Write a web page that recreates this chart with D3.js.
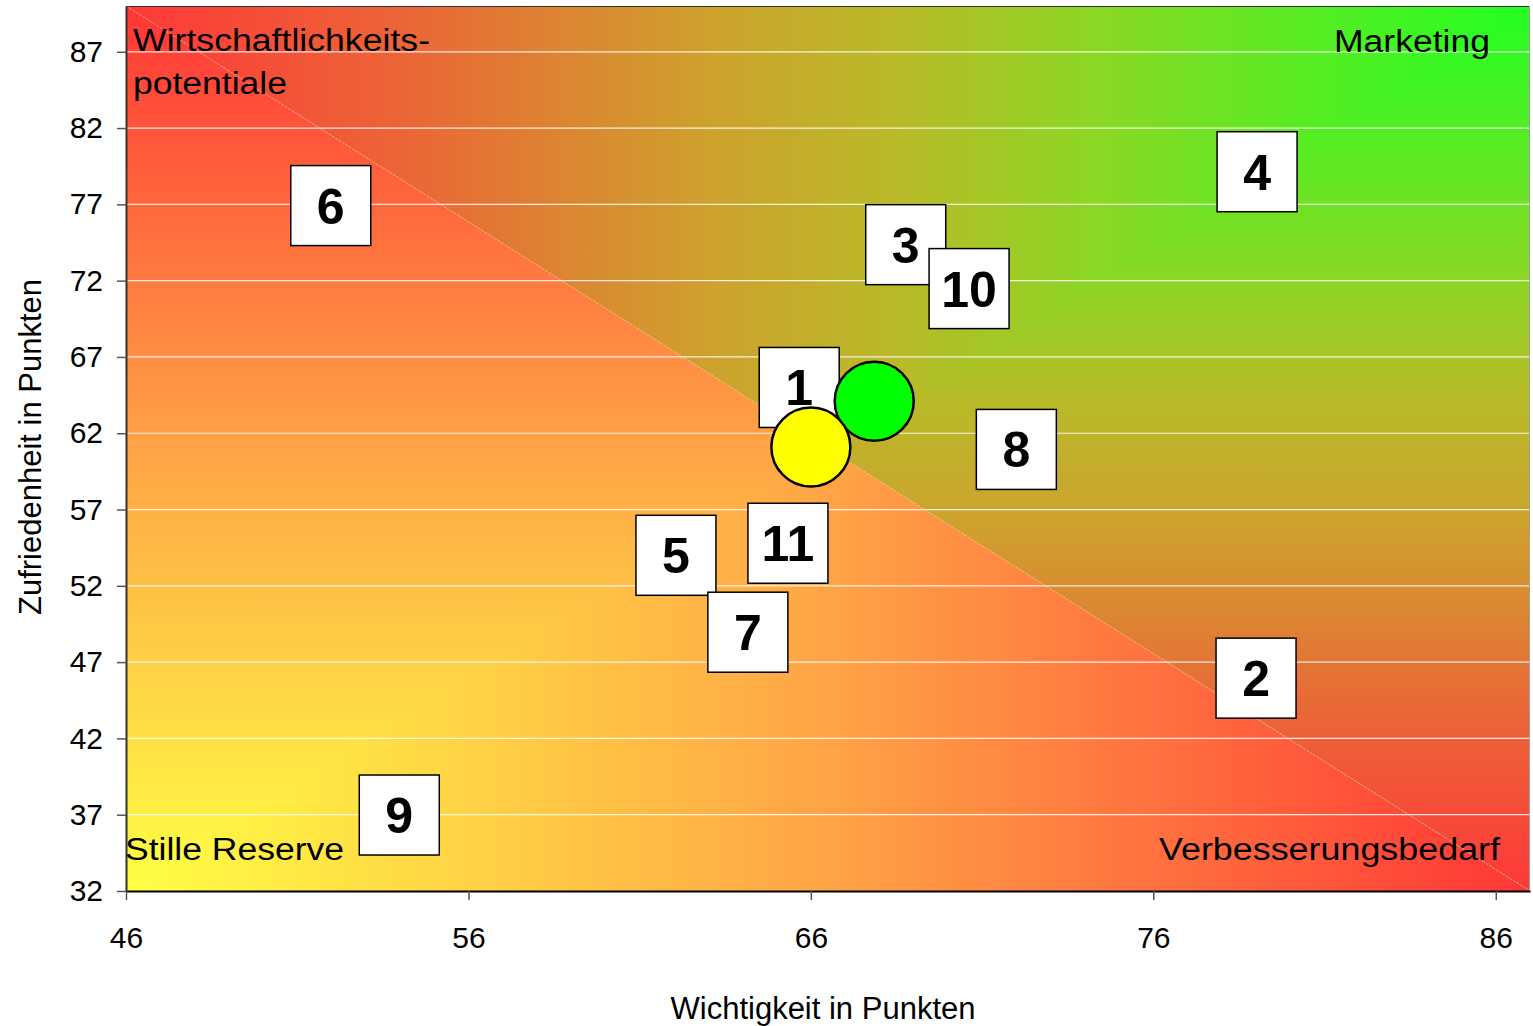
<!DOCTYPE html>
<html>
<head>
<meta charset="utf-8">
<script src="https://cdn.jsdelivr.net/npm/d3@7"></script>
<style>
  body { margin: 0; background: #ffffff; }
  svg text { font-family: Arial, "Liberation Sans", sans-serif; }
</style>
</head>
<body>
<svg id="chart" width="1533" height="1026"></svg>
<script>
// ---------- data ----------
const itemLabels   = ["1", "2", "3", "4", "5", "6", "7", "8", "9", "10", "11"];
const importance   = [65.66, 79.0, 68.77, 79.03, 62.06, 51.98, 64.16, 72.0, 53.98, 70.62, 65.33];
const satisfaction = [65.0, 45.95, 74.36, 79.14, 54.0, 76.92, 48.96, 60.94, 36.98, 71.48, 54.79];

const meanImportance   = [67.85, 66.0];
const meanSatisfaction = [64.1, 61.1];
const meanColors       = ["#00FF00", "#FFFF00"];

const xTicks = [46, 56, 66, 76, 86];
const yTicks = [32, 37, 42, 47, 52, 57, 62, 67, 72, 77, 82, 87];
const xDomain = [46, 87];
const yDomain = [32, 90];

const xTitle = "Wichtigkeit in Punkten";
const yTitle = "Zufriedenheit in Punkten";
const quadrantTopLeft  = ["Wirtschaftlichkeits-", "potentiale"];
const quadrantTopRight = "Marketing";
const quadrantBotLeft  = "Stille Reserve";
const quadrantBotRight = "Verbesserungsbedarf";

// ---------- layout ----------
const svg = d3.select("#chart");
const margin = { left: 126, top: 6, right: 3, bottom: 135 };
const W = 1533, H = 1026;
const x = d3.scaleLinear().domain(xDomain).range([margin.left, W - margin.right]);
const y = d3.scaleLinear().domain(yDomain).range([H - margin.bottom, margin.top]);

const x0 = x.range()[0], x1 = x.range()[1];
const yB = y.range()[0], yT = y.range()[1];
const cx = (x0 + x1) / 2, cy = (yB + yT) / 2;

// ---------- background gradients ----------
const defs = svg.append("defs");
const lowerStops = [[0, "#FFFF44"], [0.5, "#FFA446"], [1, "#FF3636"]];
const upperStops = [[0, "#22FF22"], [0.16, "#58EC24"], [0.31, "#8CD725"], [0.45, "#B9BA29"],
                    [0.59, "#CFA02D"], [0.8, "#EB6637"], [1, "#FF3838"]];

function grad(id, stops, gx1, gy1, gx2, gy2) {
  const g = defs.append("linearGradient").attr("id", id)
    .attr("gradientUnits", "userSpaceOnUse")
    .attr("x1", gx1).attr("y1", gy1).attr("x2", gx2).attr("y2", gy2);
  stops.forEach(s => g.append("stop").attr("offset", s[0]).attr("stop-color", s[1]));
}
// lower triangle, corner bottom-left (yellow)
grad("gLowLeft",  lowerStops, x0, yB, x0, yT);   // vertical: bottom -> top
grad("gLowBot",   lowerStops, x0, yB, x1, yB);   // horizontal: left -> right
// upper triangle, corner top-right (green)
grad("gUpTop",    upperStops, x1, yT, x0, yT);   // horizontal: right -> left
grad("gUpRight",  upperStops, x1, yT, x1, yB);   // vertical: top -> bottom

const bg = svg.append("g");
const poly = pts => pts.map(p => p.join(",")).join(" ");
// full triangles with the horizontal gradient, then the vertical part on top (no seams)
bg.append("polygon").attr("points", poly([[x0, yT], [x0, yB], [x1, yB]])).attr("fill", "url(#gLowBot)");
bg.append("polygon").attr("points", poly([[x0, yT], [x0, yB], [cx, cy]])).attr("fill", "url(#gLowLeft)");
bg.append("polygon").attr("points", poly([[x0, yT], [x1, yT], [x1, yB]])).attr("fill", "url(#gUpTop)");
bg.append("polygon").attr("points", poly([[x1, yT], [x1, yB], [cx, cy]])).attr("fill", "url(#gUpRight)");

// diagonal faint line
bg.append("line").attr("x1", x0).attr("y1", yT).attr("x2", x1).attr("y2", yB)
  .attr("stroke", "#ffffff").attr("stroke-opacity", 0.35).attr("stroke-width", 1)
  .attr("stroke-dasharray", "2,2");

// gridlines
svg.append("g").selectAll("line").data(yTicks.filter(v => v !== yDomain[0])).join("line")
  .attr("x1", x0).attr("x2", x1)
  .attr("y1", d => y(d)).attr("y2", d => y(d))
  .attr("stroke", "#ffffff").attr("stroke-opacity", 0.85).attr("stroke-width", 1.2);

// plot border (top & right)
svg.append("line").attr("x1", x0).attr("x2", x1).attr("y1", yT + 0.5).attr("y2", yT + 0.5)
  .attr("stroke", "#333").attr("stroke-width", 1);
svg.append("line").attr("x1", x1 - 0.5).attr("x2", x1 - 0.5).attr("y1", yT).attr("y2", yB)
  .attr("stroke", "#a0a0a0").attr("stroke-width", 1);

// ---------- axes ----------
const xAxis = svg.append("g").attr("transform", `translate(0,${yB})`)
  .call(d3.axisBottom(x).tickValues(xTicks).tickSize(9).tickPadding(27).tickSizeOuter(0));
xAxis.select(".domain").attr("stroke", "#000").attr("stroke-width", 2);
xAxis.selectAll(".tick line").attr("stroke", "#555").attr("stroke-width", 1.5);
xAxis.selectAll(".tick text").attr("font-size", 30).attr("fill", "#000")
  .style("font-family", "Arial, 'Liberation Sans', sans-serif");

const yAxis = svg.append("g").attr("transform", `translate(${x0},0)`)
  .call(d3.axisLeft(y).tickValues(yTicks).tickSize(9).tickPadding(14).tickSizeOuter(0));
yAxis.select(".domain").attr("stroke", "#333").attr("stroke-width", 2);
yAxis.selectAll(".tick line").attr("stroke", "#555").attr("stroke-width", 1.5);
yAxis.selectAll(".tick text").attr("font-size", 30).attr("fill", "#000")
  .style("font-family", "Arial, 'Liberation Sans', sans-serif");

// axis titles
svg.append("text").attr("x", 823).attr("y", 1019).attr("text-anchor", "middle")
  .attr("font-size", 31).attr("fill", "#000").text(xTitle);
svg.append("text").attr("transform", "translate(41,447) rotate(-90)").attr("text-anchor", "middle")
  .attr("font-size", 31).attr("fill", "#000").text(yTitle);

// ---------- quadrant labels ----------
const ql = svg.append("g").attr("font-size", 31).attr("fill", "#000");
ql.append("text").attr("x", 133).attr("y", 51).attr("textLength", 297)
  .attr("lengthAdjust", "spacingAndGlyphs").text(quadrantTopLeft[0]);
ql.append("text").attr("x", 133).attr("y", 94).attr("textLength", 154)
  .attr("lengthAdjust", "spacingAndGlyphs").text(quadrantTopLeft[1]);
ql.append("text").attr("x", 1334).attr("y", 52).attr("textLength", 156)
  .attr("lengthAdjust", "spacingAndGlyphs").text(quadrantTopRight);
ql.append("text").attr("x", 125).attr("y", 860).attr("textLength", 219)
  .attr("lengthAdjust", "spacingAndGlyphs").text(quadrantBotLeft);
ql.append("text").attr("x", 1159).attr("y", 860).attr("textLength", 341)
  .attr("lengthAdjust", "spacingAndGlyphs").text(quadrantBotRight);

// ---------- item boxes ----------
const items = itemLabels.map((l, i) => ({ label: l, x: importance[i], y: satisfaction[i] }));
const box = 80;
const boxes = svg.append("g").selectAll("g").data(items).join("g")
  .attr("transform", d => `translate(${x(d.x)},${y(d.y)})`);
boxes.append("rect").attr("x", -box / 2).attr("y", -box / 2).attr("width", box).attr("height", box)
  .attr("fill", "#ffffff").attr("stroke", "#000").attr("stroke-width", 1.5);
boxes.append("text").attr("text-anchor", "middle").attr("dy", "0.36em")
  .attr("font-size", 50).attr("font-weight", "bold").attr("fill", "#000")
  .text(d => d.label);

// ---------- mean circles ----------
const means = meanImportance.map((v, i) => ({ x: v, y: meanSatisfaction[i], c: meanColors[i] }));
svg.append("g").selectAll("circle").data(means).join("circle")
  .attr("cx", d => x(d.x)).attr("cy", d => y(d.y)).attr("r", 39.5)
  .attr("fill", d => d.c).attr("stroke", "#000").attr("stroke-width", 2.5);
</script>
</body>
</html>
